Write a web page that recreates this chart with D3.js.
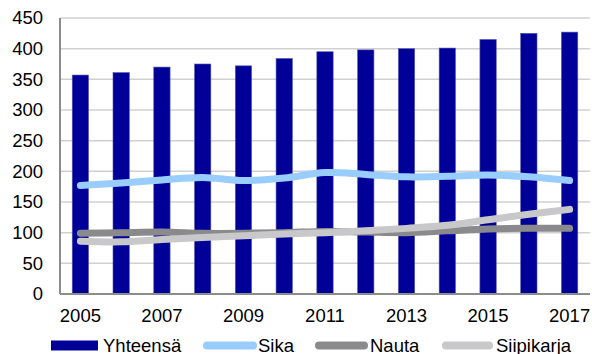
<!DOCTYPE html>
<html>
<head>
<meta charset="utf-8">
<script src="https://cdn.jsdelivr.net/npm/d3@7"></script>
<style>
  html, body { margin: 0; padding: 0; background: #fff; }
  svg { display: block; font-family: "Liberation Sans", Arial, sans-serif; }
</style>
</head>
<body>
<svg id="chart" width="592" height="354"></svg>
<script>
// Years on the x axis
const years = [2005, 2006, 2007, 2008, 2009, 2010, 2011, 2012, 2013, 2014, 2015, 2016, 2017];
// Total (bars)
const yhteensa = [357, 361, 370, 375, 372, 384, 395, 398, 400, 401, 415, 425, 427];
// Pork
const sika = [177, 181, 186, 190, 185, 189, 198, 195, 191, 192, 194, 191, 185];
// Beef
const nauta = [99, 100, 101, 99, 99, 100, 102, 101, 100, 103, 106, 107, 107];
// Poultry
const siipikarja = [86, 85, 89, 92, 95, 98, 100, 103, 107, 112, 121, 130, 138];
// Axis ticks
const yTicks = [0, 50, 100, 150, 200, 250, 300, 350, 400, 450];
const xTickLabels = ["2005", "2007", "2009", "2011", "2013", "2015", "2017"];

const colors = {
  bar: "#000099",
  sika: "#99ccff",
  nauta: "#8a8a8c",
  siipikarja: "#c8c8ca"
};

const svg = d3.select("#chart");
const plot = { left: 60, right: 590, top: 18, bottom: 294 };

const x = d3.scaleBand()
  .domain(years)
  .range([plot.left, plot.right])
  .paddingInner(0.6)
  .paddingOuter(0.3);

const y = d3.scaleLinear()
  .domain([0, 450])
  .range([plot.bottom, plot.top]);

// Horizontal gridlines
svg.append("g")
  .selectAll("line")
  .data(yTicks.filter(d => d > 0))
  .join("line")
  .attr("x1", plot.left)
  .attr("x2", plot.right)
  .attr("y1", d => y(d))
  .attr("y2", d => y(d))
  .attr("stroke", "#d0d0d0")
  .attr("stroke-width", 1.5);

// Y axis tick labels
const yAxis = d3.axisLeft(y).tickValues(yTicks).tickSize(0).tickPadding(17);
const gy = svg.append("g")
  .attr("transform", `translate(${plot.left},0)`)
  .call(yAxis);
gy.select(".domain").remove();
gy.selectAll("text")
  .attr("font-size", 18.5)
  .attr("fill", "#000")
  .attr("font-family", "Liberation Sans, Arial, sans-serif");

// Bars
svg.append("g")
  .selectAll("rect")
  .data(years.map((yr, i) => ({ yr, v: yhteensa[i] })))
  .join("rect")
  .attr("x", d => x(d.yr))
  .attr("width", x.bandwidth())
  .attr("y", d => y(d.v))
  .attr("height", d => y(0) - y(d.v))
  .attr("fill", colors.bar)
  .attr("stroke", "#5555b0")
  .attr("stroke-width", 0.6);

// Axis lines
svg.append("line")
  .attr("x1", plot.left).attr("x2", plot.left)
  .attr("y1", plot.top).attr("y2", plot.bottom)
  .attr("stroke", "#8c8c8c").attr("stroke-width", 2);
svg.append("line")
  .attr("x1", plot.left).attr("x2", plot.right)
  .attr("y1", y(0)).attr("y2", y(0))
  .attr("stroke", "#8c8c8c").attr("stroke-width", 2);

// Smoothed lines
const cx = yr => x(yr) + x.bandwidth() / 2;
const line = d3.line()
  .x((d, i) => cx(years[i]))
  .y(d => y(d))
  .curve(d3.curveCatmullRom.alpha(0.5));

[[sika, colors.sika], [nauta, colors.nauta], [siipikarja, colors.siipikarja]].forEach(([vals, c]) => {
  svg.append("path")
    .attr("d", line(vals))
    .attr("fill", "none")
    .attr("stroke", c)
    .attr("stroke-width", 7)
    .attr("stroke-linecap", "round")
    .attr("stroke-linejoin", "round");
});

// X axis labels (every other year)
const xAxis = d3.axisBottom(x)
  .tickValues(years.filter(yr => xTickLabels.includes(String(yr))))
  .tickSize(0)
  .tickPadding(15);
const gx = svg.append("g")
  .attr("transform", `translate(0,${plot.bottom})`)
  .call(xAxis);
gx.select(".domain").remove();
gx.selectAll("text")
  .attr("font-size", 18.5)
  .attr("fill", "#000")
  .attr("font-family", "Liberation Sans, Arial, sans-serif");

// Legend
const legendY = 345.5;
const legend = svg.append("g").attr("font-size", 18.5).attr("fill", "#000");
const items = [
  { label: "Yhteensä", type: "rect", color: colors.bar, x0: 51, x1: 98, tx: 103 },
  { label: "Sika", type: "line", color: colors.sika, x0: 207, x1: 253, tx: 258 },
  { label: "Nauta", type: "line", color: colors.nauta, x0: 319, x1: 364, tx: 370 },
  { label: "Siipikarja", type: "line", color: colors.siipikarja, x0: 446, x1: 489, tx: 496 }
];
items.forEach(it => {
  if (it.type === "rect") {
    legend.append("rect")
      .attr("x", it.x0).attr("y", legendY - 5)
      .attr("width", it.x1 - it.x0).attr("height", 10)
      .attr("fill", it.color);
  } else {
    legend.append("line")
      .attr("x1", it.x0).attr("x2", it.x1)
      .attr("y1", legendY).attr("y2", legendY)
      .attr("stroke", it.color).attr("stroke-width", 8)
      .attr("stroke-linecap", "round");
  }
  legend.append("text")
    .attr("x", it.tx).attr("y", legendY + 6)
    .text(it.label);
});
</script>
</body>
</html>
